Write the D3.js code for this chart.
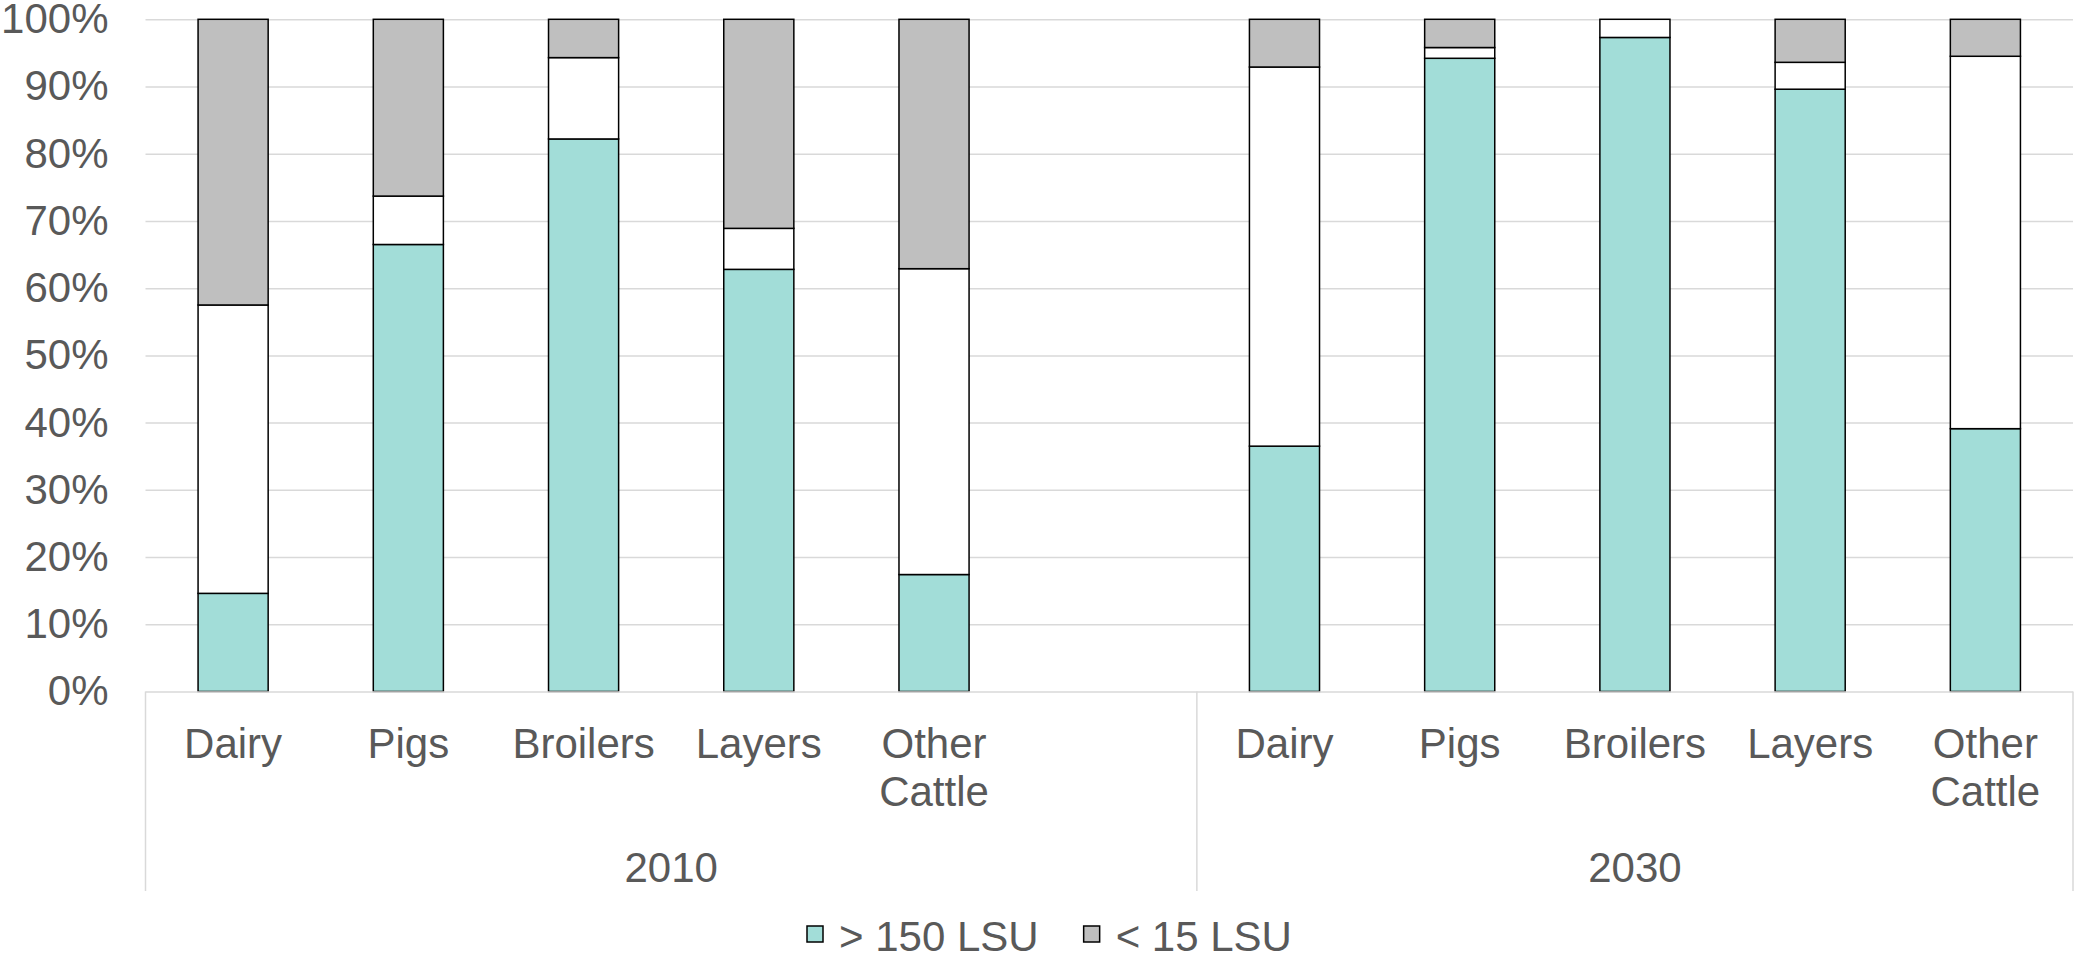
<!DOCTYPE html>
<html>
<head>
<meta charset="utf-8">
<script src="https://cdn.jsdelivr.net/npm/d3@7"></script>
<style>
  html, body { margin: 0; padding: 0; background: #ffffff; }
  svg { display: block; font-family: "Liberation Sans", Arial, sans-serif; }
</style>
</head>
<body>
<svg id="chart" width="2074" height="958"></svg>
<script>
// Share of livestock units by farm size class, per livestock type and year (%)
const slotYear     = ["2010", "2010", "2010", "2010", "2010", "2010", "2030", "2030", "2030", "2030", "2030"];
const slotCategory = ["Dairy", "Pigs", "Broilers", "Layers", "Other Cattle", "", "Dairy", "Pigs", "Broilers", "Layers", "Other Cattle"];
const over150      = [14.6, 66.5, 82.2, 62.8, 17.4, null, 36.5, 94.2, 97.3, 89.6, 39.1];
const from15to150  = [42.9,  7.2, 12.1,  6.1, 45.5, null, 56.4,  1.6,  2.7,  4.0, 55.4];
const under15      = [42.5, 26.3,  5.7, 31.1, 37.1, null,  7.1,  4.2,  0.0,  6.4,  5.5];
const yTicks       = [0, 10, 20, 30, 40, 50, 60, 70, 80, 90, 100];
const seriesKeys   = ["over150", "from15to150", "under15"];
const seriesColors = ["#a2ddd8", "#ffffff", "#bfbfbf"];
const legendKeys   = ["over150", "under15"];
const legendLabels = ["> 150 LSU", "< 15 LSU"];

const svg = d3.select("#chart");
const textColor = "#595959";
const gridColor = "#d9d9d9";
const fontSize = 42;

const plot = { left: 145.5, right: 2073, top: 19.3, bottom: 691.5 };

const rows = slotCategory.map((c, i) => ({
  slot: i,
  year: slotYear[i],
  category: c,
  over150: over150[i] ?? 0,
  from15to150: from15to150[i] ?? 0,
  under15: under15[i] ?? 0,
  empty: over150[i] == null
}));

const x = d3.scaleBand()
  .domain(rows.map(d => d.slot))
  .range([plot.left, plot.right])
  .paddingInner(0.6)
  .paddingOuter(0.3);

const y = d3.scaleLinear().domain([0, 100]).range([plot.bottom, plot.top]);

// Horizontal gridlines
const grid = svg.append("g")
  .attr("transform", `translate(${plot.left},0)`)
  .call(d3.axisLeft(y).tickValues(yTicks.slice(1)).tickSize(-(plot.right - plot.left)).tickFormat(""));
grid.select(".domain").remove();
grid.selectAll("line").attr("stroke", gridColor).attr("stroke-width", 1.5);

// Y axis labels
const yAxis = svg.append("g")
  .attr("transform", `translate(${plot.left},0)`)
  .call(d3.axisLeft(y).tickValues(yTicks).tickSize(0).tickPadding(37).tickFormat(d => d + "%"));
yAxis.select(".domain").remove();
yAxis.selectAll("text")
  .attr("fill", textColor)
  .style("font-size", fontSize + "px")
  .style("font-family", "'Liberation Sans', Arial, sans-serif");

// Stacked bars
const stacked = d3.stack().keys(seriesKeys)(rows.filter(d => !d.empty));
const color = d3.scaleOrdinal().domain(seriesKeys).range(seriesColors);

svg.append("g").selectAll("g")
  .data(stacked)
  .join("g")
  .attr("fill", s => color(s.key))
  .selectAll("rect")
  .data(s => s)
  .join("rect")
  .attr("x", d => x(d.data.slot))
  .attr("width", x.bandwidth())
  .attr("y", d => y(d[1]))
  .attr("height", d => y(d[0]) - y(d[1]))
  .attr("stroke", "#000000")
  .attr("stroke-width", 1.5);

// Category axis: baseline and group separators
const step = x.step();
const groups = Array.from(d3.group(rows, d => d.year), ([year, r]) => ({
  year,
  x0: x(r[0].slot) - step * x.paddingOuter(),
  x1: x(r[r.length - 1].slot) + x.bandwidth() + step * x.paddingOuter()
}));

const axisG = svg.append("g");
axisG.append("line")
  .attr("x1", plot.left).attr("x2", plot.right)
  .attr("y1", plot.bottom + 0.5).attr("y2", plot.bottom + 0.5)
  .attr("stroke", gridColor).attr("stroke-width", 1.5);

const sepX = [groups[0].x0, ...groups.map(g => g.x1)];
axisG.selectAll("line.sep")
  .data(sepX)
  .join("line")
  .attr("class", "sep")
  .attr("x1", d => d).attr("x2", d => d)
  .attr("y1", plot.bottom).attr("y2", 891)
  .attr("stroke", gridColor).attr("stroke-width", 1.5);

// Category labels (wrapped onto two lines when wider than a slot)
const catLabels = axisG.selectAll("text.cat")
  .data(rows.filter(d => d.category !== ""))
  .join("text")
  .attr("class", "cat")
  .attr("text-anchor", "middle")
  .attr("fill", textColor)
  .style("font-size", fontSize + "px")
  .attr("x", d => x(d.slot) + x.bandwidth() / 2)
  .attr("y", 758)
  .text(d => d.category);

catLabels.each(function (d) {
  const t = d3.select(this);
  if (this.getComputedTextLength() > step) {
    const words = d.category.split(" ");
    t.text(null);
    words.forEach((w, i) => {
      t.append("tspan")
        .attr("x", x(d.slot) + x.bandwidth() / 2)
        .attr("dy", i === 0 ? 0 : 48)
        .text(w);
    });
  }
});

// Year labels
axisG.selectAll("text.year")
  .data(groups)
  .join("text")
  .attr("class", "year")
  .attr("text-anchor", "middle")
  .attr("fill", textColor)
  .style("font-size", fontSize + "px")
  .attr("x", d => (d.x0 + d.x1) / 2)
  .attr("y", 882)
  .text(d => d.year);

// Legend
const legend = svg.append("g");
let lx = 807;
legendKeys.forEach((k, i) => {
  legend.append("rect")
    .attr("x", lx).attr("y", 926)
    .attr("width", 16).attr("height", 16)
    .attr("fill", color(k))
    .attr("stroke", "#000000").attr("stroke-width", 1.5);
  const t = legend.append("text")
    .attr("x", lx + 32).attr("y", 951)
    .attr("fill", textColor)
    .style("font-size", fontSize + "px")
    .text(legendLabels[i]);
  lx = lx + 32 + t.node().getComputedTextLength() + 45;
});
</script>
</body>
</html>
